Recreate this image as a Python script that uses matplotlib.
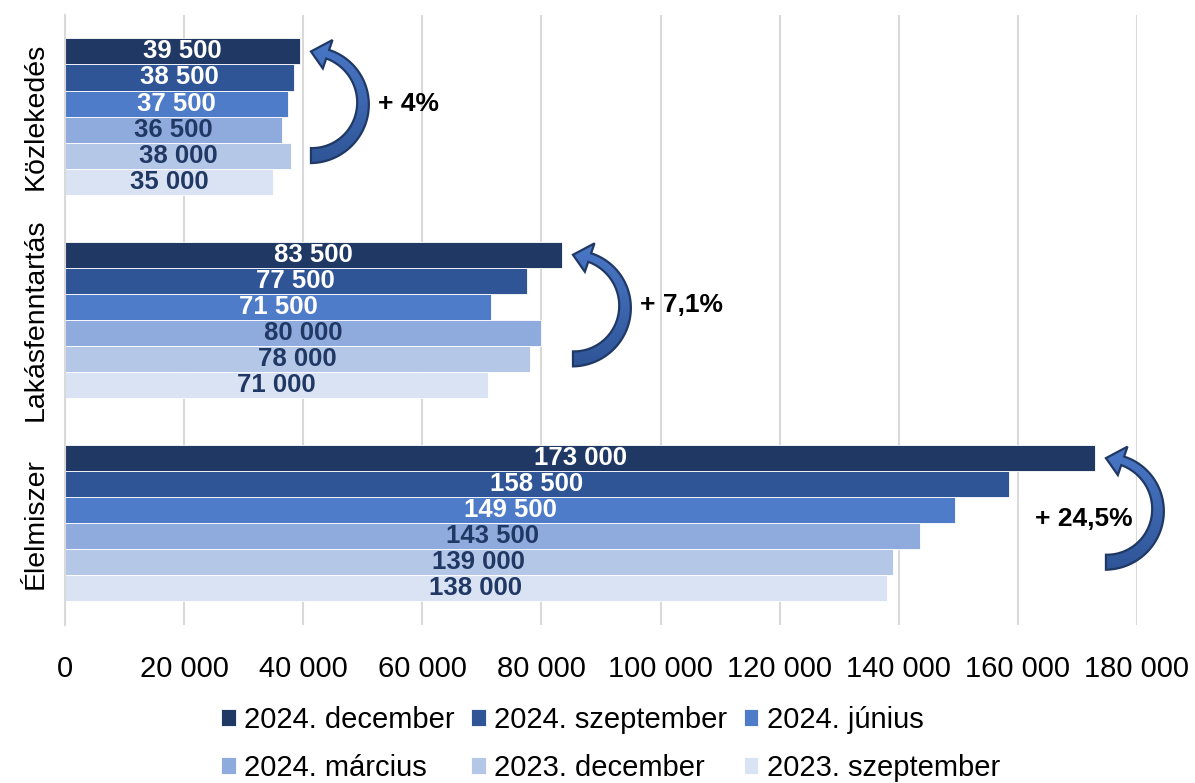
import numpy as np
import matplotlib
matplotlib.use('Agg')
import matplotlib.pyplot as plt
from matplotlib.patches import Polygon
from matplotlib.colors import LinearSegmentedColormap
from matplotlib.ticker import FuncFormatter

plt.rcParams['font.family'] = ['Liberation Sans', 'DejaVu Sans']

# data (bottom to top on the chart)
categories = ['Élelmiszer', 'Lakásfenntartás', 'Közlekedés']
series_names = ['2024. december', '2024. szeptember', '2024. június',
                '2024. március', '2023. december', '2023. szeptember']
dec_2024 = [173000, 83500, 39500]
szep_2024 = [158500, 77500, 38500]
jun_2024 = [149500, 71500, 37500]
mar_2024 = [143500, 80000, 36500]
dec_2023 = [139000, 78000, 38000]
szep_2023 = [138000, 71000, 35000]
changes = ['+ 24,5%', '+ 7,1%', '+ 4%']

series = [dec_2024, szep_2024, jun_2024, mar_2024, dec_2023, szep_2023]
colors = ['#203864', '#2F5597', '#4F7CC9', '#8FAADC', '#B4C7E7', '#DAE3F3']
label_colors = ['white', 'white', 'white', '#203864', '#203864', '#203864']

fig = plt.figure(figsize=(11.95, 7.83), dpi=100)
ax = fig.add_axes([0.0544, 0.202, 0.897, 0.779])

h = 0.128
y = np.arange(len(categories))
handles = []
for i, vals in enumerate(series):
    pos = y + (2.5 - i) * h
    b = ax.barh(pos, vals, height=h, color=colors[i], edgecolor='white',
                linewidth=0.6, label=series_names[i], zorder=2)
    handles.append(b)
    for p, v in zip(pos, vals):
        ax.text(v / 2, p, f'{v:,.0f}'.replace(',', ' '), ha='center', va='center',
                fontsize=18.5, fontweight='bold', color=label_colors[i], zorder=3)

xlim = (0, 180000)
ylim = (-0.5, 2.5)
ax.set_xlim(xlim)
ax.set_ylim(ylim)
ax.set_xticks(np.arange(0, 180001, 20000))
ax.xaxis.set_major_formatter(FuncFormatter(lambda v, p: f'{v:,.0f}'.replace(',', ' ')))
ax.set_yticks(y)
ax.set_yticklabels(categories, rotation=90, va='center', fontsize=20.5)
ax.tick_params(axis='x', labelsize=21, length=0, pad=22)
ax.tick_params(axis='y', length=0, pad=12)
ax.grid(axis='x', color='#D9D9D9', linewidth=1.5, zorder=0)
for s in ['top', 'right', 'bottom']:
    ax.spines[s].set_visible(False)
ax.spines['left'].set_color('#D9D9D9')
ax.spines['left'].set_linewidth(1.5)

arrow_cmap = LinearSegmentedColormap.from_list('arr', ['#2F5597', '#4A78C8'])


def curved_arrow(tip_data, tail_data):
    # half circle built in pixels, head pointing left at the top
    tip = ax.transData.transform(tip_data)
    tail = ax.transData.transform(tail_data)
    cx = tip[0]
    cy = (tip[1] + tail[1]) / 2
    r = (tip[1] - tail[1]) / 2
    hl, hw = 17, 30
    th_base = np.pi / 2 - hl / r
    th = np.linspace(-np.pi / 2, th_base, 80)
    w = np.linspace(15, 9, 80)
    outer = np.c_[cx + (r + w / 2) * np.cos(th), cy + (r + w / 2) * np.sin(th)]
    inner = np.c_[cx + (r - w / 2) * np.cos(th), cy + (r - w / 2) * np.sin(th)]
    head = np.array([
        [cx + (r + hw / 2) * np.cos(th_base), cy + (r + hw / 2) * np.sin(th_base)],
        [cx, cy + r],
        [cx + (r - hw / 2) * np.cos(th_base), cy + (r - hw / 2) * np.sin(th_base)],
    ])
    pts = np.vstack([outer, head, inner[::-1]])
    pts = ax.transData.inverted().transform(pts)
    poly = Polygon(pts, closed=True, facecolor='none', edgecolor='#1F3864',
                   linewidth=1.6, zorder=5, clip_on=False)
    ax.add_patch(poly)
    ext = [pts[:, 0].min(), pts[:, 0].max(), pts[:, 1].min(), pts[:, 1].max()]
    im = ax.imshow(np.linspace(0, 1, 256).reshape(-1, 1), cmap=arrow_cmap,
                   extent=ext, origin='lower', aspect='auto', zorder=4)
    im.set_clip_box(fig.bbox)
    im.set_clip_path(poly)


# arrows go from 2023 december to 2024 december
text_pos = [(171000, 0.02), (96500, 1.075), (52500, 2.06)]
text_ha = ['center', 'left', 'left']
for k in range(len(categories)):
    tip_x = dec_2024[k] + 1800
    curved_arrow((tip_x, y[k] + 2.5 * h), (tip_x, y[k] - 1.5 * h))
    ax.text(text_pos[k][0], text_pos[k][1], changes[k], ha=text_ha[k], va='center',
            fontsize=19, fontweight='bold', color='black', zorder=6)

ax.set_xlim(xlim)
ax.set_ylim(ylim)

order = [0, 3, 1, 4, 2, 5]
fig.legend([handles[i] for i in order], [series_names[i] for i in order],
           loc='center', bbox_to_anchor=(0.511, 0.05), ncol=3, frameon=False,
           fontsize=21, handlelength=0.5, handleheight=0.5, handletextpad=0.3,
           columnspacing=0.55, labelspacing=0.7)

fig.savefig('out.png', dpi=100)
